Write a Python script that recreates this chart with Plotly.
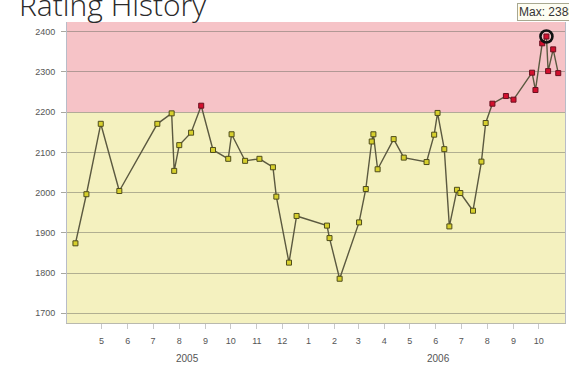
import plotly.graph_objects as go

# Rating history samples
dates = [
    "2005-03-31", "2005-04-13", "2005-04-30", "2005-05-22", "2005-07-06",
    "2005-07-23", "2005-07-26", "2005-08-01", "2005-08-15", "2005-08-27",
    "2005-09-10", "2005-09-28", "2005-10-02", "2005-10-18", "2005-11-04",
    "2005-11-20", "2005-11-24", "2005-12-09", "2005-12-18", "2006-01-23",
    "2006-01-26", "2006-02-07", "2006-03-02", "2006-03-10", "2006-03-17",
    "2006-03-19", "2006-03-24", "2006-04-12", "2006-04-24", "2006-05-21",
    "2006-05-30", "2006-06-03", "2006-06-11", "2006-06-17", "2006-06-26",
    "2006-06-30", "2006-07-15", "2006-07-25", "2006-07-30", "2006-08-07",
    "2006-08-23", "2006-09-01", "2006-09-23", "2006-09-27", "2006-10-05",
    "2006-10-10", "2006-10-12", "2006-10-18", "2006-10-24",
]
ratings = [
    1874, 1996, 2171, 2004, 2171,
    2197, 2054, 2118, 2149, 2216,
    2106, 2084, 2145, 2079, 2084,
    2063, 1990, 1826, 1942, 1918,
    1887, 1786, 1926, 2009, 2127,
    2145, 2058, 2133, 2087, 2076,
    2144, 2198, 2108, 1916, 2007,
    1999, 1955, 2077, 2173, 2221,
    2240, 2231, 2298, 2255, 2371,
    2388, 2302, 2356, 2297,
]

# Month ticks and year captions
tick_dates = [
    "2005-05-01", "2005-06-01", "2005-07-01", "2005-08-01", "2005-09-01",
    "2005-10-01", "2005-11-01", "2005-12-01", "2006-01-01", "2006-02-01",
    "2006-03-01", "2006-04-01", "2006-05-01", "2006-06-01", "2006-07-01",
    "2006-08-01", "2006-09-01", "2006-10-01",
]
tick_labels = ["5", "6", "7", "8", "9", "10", "11", "12", "1", "2",
               "3", "4", "5", "6", "7", "8", "9", "10"]
year_labels = ["2005", "2006"]
year_positions = ["2005-08-11", "2006-06-04"]

threshold = 2200
y_min, y_max = 1676, 2424

marker_fill = ["#d3102e" if r > threshold else "#d6cf2c" for r in ratings]
marker_edge = ["#6a1020" if r > threshold else "#4e4c1c" for r in ratings]

max_rating = max(ratings)
max_date = dates[ratings.index(max_rating)]

fig = go.Figure()

# background bands
fig.add_shape(type="rect", xref="paper", yref="y", x0=0, x1=1,
              y0=y_min, y1=threshold, fillcolor="#f4f1bf",
              line_width=0, layer="below")
fig.add_shape(type="rect", xref="paper", yref="y", x0=0, x1=1,
              y0=threshold, y1=y_max, fillcolor="#f6c3c7",
              line_width=0, layer="below")

fig.add_trace(go.Scatter(
    x=dates, y=ratings, mode="lines+markers",
    line=dict(color="#5b5940", width=1.4),
    marker=dict(symbol="square", size=5, color=marker_fill,
                line=dict(color=marker_edge, width=1)),
    hoverinfo="x+y", showlegend=False,
))

# ring around the peak
fig.add_trace(go.Scatter(
    x=[max_date], y=[max_rating], mode="markers",
    marker=dict(symbol="circle-open", size=12, color="#111111",
                line=dict(color="#111111", width=2.6)),
    hoverinfo="skip", showlegend=False,
))

fig.update_layout(
    width=569, height=366,
    margin=dict(l=67, r=4, t=22, b=43),
    paper_bgcolor="white", plot_bgcolor="white",
    font=dict(family="Liberation Sans, Arial, sans-serif", color="#555555"),
    xaxis=dict(
        type="date", range=["2005-03-21", "2006-11-01"],
        tickvals=tick_dates, ticktext=tick_labels,
        ticks="outside", ticklen=5, tickcolor="#c8c8c8", tickwidth=1,
        ticklabelstandoff=4,
        tickfont=dict(size=9, color="#555555"),
        showgrid=False, zeroline=False,
        showline=True, linecolor="#b9b9ae", linewidth=1,
    ),
    yaxis=dict(
        range=[y_min, y_max],
        tickvals=[1700, 1800, 1900, 2000, 2100, 2200, 2300, 2400],
        ticks="outside", ticklen=5, tickcolor="#a8a8a0", tickwidth=1,
        ticklabelstandoff=4,
        tickfont=dict(size=9, color="#555555"),
        showgrid=True, gridcolor="rgba(110,110,100,0.5)", gridwidth=1,
        zeroline=False,
        showline=True, linecolor="#b8bcc8", linewidth=1, mirror=True,
    ),
)

annotations = [
    dict(text="Rating History", xref="paper", yref="paper",
         x=-0.1, y=0.985, xanchor="left", yanchor="bottom",
         showarrow=False,
         font=dict(family="Open Sans, sans-serif", size=30, weight=300,
                   color="#2a2a2a")),
    dict(text=f"Max: {max_rating}", xref="paper", yref="paper",
         x=0.9036, y=1.004, xanchor="left", yanchor="bottom",
         showarrow=False, bgcolor="#fdfdf2", bordercolor="#a8a890",
         borderwidth=1, borderpad=1,
         font=dict(size=12, color="#333333")),
]
for label, pos in zip(year_labels, year_positions):
    annotations.append(dict(text=label, xref="x", yref="paper",
                            x=pos, y=-0.118, xanchor="center",
                            yanchor="middle", showarrow=False,
                            font=dict(size=10, color="#555555")))
fig.update_layout(annotations=annotations)

fig.write_html("out.html")
